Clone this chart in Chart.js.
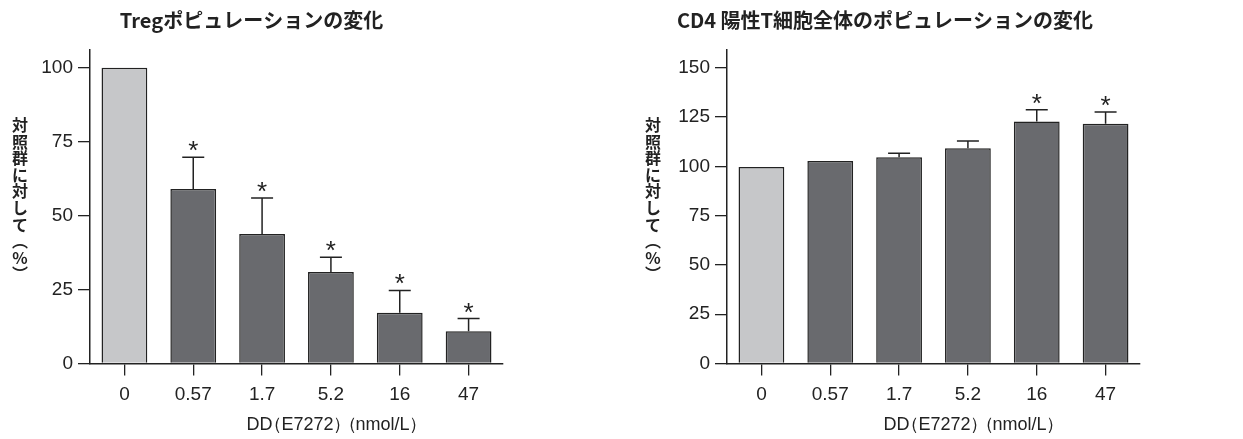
<!DOCTYPE html>
<html>
<head>
<meta charset="utf-8">
<script src="https://cdn.jsdelivr.net/npm/chart.js@4.4.1/dist/chart.umd.min.js"></script>
<style>
  body { margin: 0; background: #fff; }
  .box { position: absolute; top: 0; height: 439px; }
</style>
</head>
<body>
<div class="box" style="left:0;width:505px"><canvas id="tregChart"></canvas></div>
<div class="box" style="left:630px;width:513px"><canvas id="cd4Chart"></canvas></div>
<script>
const doses = ['0', '0.57', '1.7', '5.2', '16', '47'];
const tregValues = [100, 59, 43.8, 30.9, 17.2, 10.9];
const tregErrors = [0, 10.7, 12.2, 5, 7.5, 4.3];
const tregStars = [false, true, true, true, true, true];
const cd4Values = [99.6, 102.7, 104.6, 109.2, 122.7, 121.6];
const cd4Errors = [0, 0, 2, 3.7, 6, 6];
const cd4Stars = [false, false, false, false, true, true];
const yTitle = ['対', '照', '群', 'に', '対', 'し', 'て', '︵', '%', '︶'];
const xTitle = 'DD（E7272）（nmol/L）';

const numFont = "'Liberation Sans', Arial, sans-serif";
const jpFont = "'Noto Sans CJK JP', 'Noto Sans', sans-serif";
const ink = '#222';
const light = '#c6c7c9';
const dark = '#696a6e';

// error bars, stars and the extra axis labels
const extras = {
  id: 'extras',
  afterDatasetsDraw(chart, args, opts) {
    const ctx = chart.ctx;
    const y = chart.scales.y;
    const meta = chart.getDatasetMeta(0);
    ctx.save();
    ctx.strokeStyle = ink;
    ctx.lineWidth = 1.5;
    meta.data.forEach((bar, i) => {
      const v = opts.values[i];
      const e = opts.errors[i];
      let top = y.getPixelForValue(v);
      if (e > 0) {
        top = y.getPixelForValue(v + e);
        ctx.beginPath();
        ctx.moveTo(bar.x, y.getPixelForValue(v));
        ctx.lineTo(bar.x, top);
        ctx.moveTo(bar.x - 11, top);
        ctx.lineTo(bar.x + 11, top);
        ctx.stroke();
      }
      if (opts.stars[i]) {
        ctx.fillStyle = ink;
        ctx.font = "26px " + numFont;
        ctx.textAlign = 'center';
        ctx.textBaseline = 'alphabetic';
        ctx.fillText('*', bar.x, top + 2);
      }
    });
    ctx.restore();
  },
  afterDraw(chart, args, opts) {
    const ctx = chart.ctx;
    const area = chart.chartArea;
    ctx.save();
    ctx.fillStyle = ink;
    ctx.textBaseline = 'middle';
    ctx.textAlign = 'center';
    ctx.font = "bold 16px " + jpFont;
    yTitle.forEach((ch, i) => {
      ctx.fillText(ch, opts.yTitleX, 125 + i * 16.6);
    });
    // x title: full-width brackets drawn with half their box so they sit tight
    ctx.textAlign = 'left';
    ctx.font = "18px " + numFont;
    const parts = xTitle.split(/([（）])/).filter(Boolean);
    const em = 18;
    const widthOf = p => (p === '（' || p === '）') ? em * 0.5 : ctx.measureText(p).width;
    const total = parts.reduce((s, p) => s + widthOf(p), 0) + 4;
    let x = (area.left + area.right) / 2 + 36 - total / 2;
    parts.forEach((p, i) => {
      if (p === '（') {
        if (i > 0 && parts[i - 1] === '）') x += 4;
        ctx.fillText(p, x - em * 0.5 + 1, 425);
      } else if (p === '）') {
        ctx.fillText(p, x - 1, 425);
      } else {
        ctx.fillText(p, x, 425);
      }
      x += widthOf(p);
    });
    ctx.restore();
  }
};

function makeChart(id, title, values, errors, stars, yMax, yWidth, padRight, yTitleX) {
  const ctx = document.getElementById(id);
  return new Chart(ctx, {
    type: 'bar',
    data: {
      labels: doses,
      datasets: [{
        data: values,
        backgroundColor: values.map((v, i) => i === 0 ? light : dark),
        borderColor: ink,
        borderWidth: 1.5,
        categoryPercentage: 1,
        barPercentage: 0.665
      }]
    },
    options: {
      responsive: true,
      maintainAspectRatio: false,
      animation: false,
      layout: { padding: { left: 0, right: padRight, top: 0, bottom: 0 } },
      plugins: {
        legend: { display: false },
        tooltip: { enabled: false },
        title: {
          display: true,
          text: title,
          color: ink,
          font: { family: jpFont, size: 20, weight: 'bold', lineHeight: 1.2 },
          padding: { top: 8, bottom: 18 }
        },
        extras: { values: values, errors: errors, stars: stars, yTitleX: yTitleX }
      },
      scales: {
        x: {
          grid: { offset: false, drawOnChartArea: false, tickLength: 12, color: ink, lineWidth: 1.3 },
          border: { color: ink, width: 1.5 },
          ticks: { color: ink, padding: 8, font: { family: numFont, size: 19 } },
          afterFit: s => { s.height = 75.5; }
        },
        y: {
          min: 0,
          max: yMax,
          grid: { drawOnChartArea: false, tickLength: 12, color: ink, lineWidth: 1.3 },
          border: { color: ink, width: 1.5 },
          ticks: { stepSize: 25, includeBounds: false, color: ink, padding: 5, font: { family: numFont, size: 19 } },
          afterFit: s => { s.width = yWidth; }
        }
      }
    },
    plugins: [extras]
  });
}

makeChart('tregChart', 'Tregポピュレーションの変化', tregValues, tregErrors, tregStars, 106, 90, 2, 20);
makeChart('cd4Chart', 'CD4 陽性T細胞全体のポピュレーションの変化', cd4Values, cd4Errors, cd4Stars, 159, 97, 3, 23);
</script>
</body>
</html>
